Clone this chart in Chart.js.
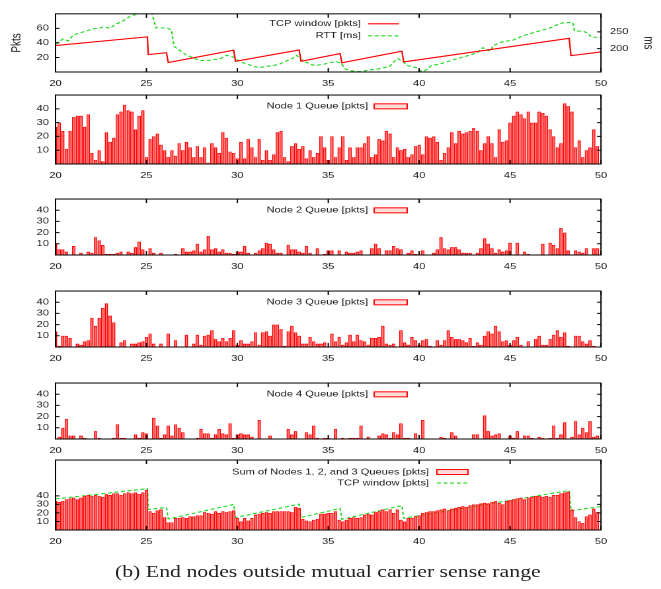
<!DOCTYPE html>
<html>
<head>
<meta charset="utf-8">
<script src="https://cdn.jsdelivr.net/npm/chart.js@4/dist/chart.umd.min.js"></script>
<style>
html, body { margin: 0; padding: 0; background: #fff; overflow: hidden; }
#fig { position: relative; width: 500px; height: 589px; transform: scaleX(1.322); transform-origin: 0 0; }
#fig canvas { position: absolute; left: 0; }
#caption { position: absolute; left: -2px; width: 500px; top: 561px; text-align: center;
  font: 16.5px "Liberation Serif", serif; line-height: 22px; color: #222; }
</style>
</head>
<body>
<div id="fig"><div id="caption">(b) End nodes outside mutual carrier sense range</div></div>
<script>
// sample times of the queue bars [s]
const qTime = [
  20,20.2,20.4,20.6,20.8, 21,21.2,21.4,21.6,21.8, 22,22.2,22.4,22.6,22.8,
  23,23.2,23.4,23.6,23.8, 24,24.2,24.4,24.6,24.8, 25,25.2,25.4,25.6,25.8,
  26,26.2,26.4,26.6,26.8, 27,27.2,27.4,27.6,27.8, 28,28.2,28.4,28.6,28.8,
  29,29.2,29.4,29.6,29.8, 30,30.2,30.4,30.6,30.8, 31,31.2,31.4,31.6,31.8,
  32,32.2,32.4,32.6,32.8, 33,33.2,33.4,33.6,33.8, 34,34.2,34.4,34.6,34.8,
  35,35.2,35.4,35.6,35.8, 36,36.2,36.4,36.6,36.8, 37,37.2,37.4,37.6,37.8,
  38,38.2,38.4,38.6,38.8, 39,39.2,39.4,39.6,39.8, 40,40.2,40.4,40.6,40.8,
  41,41.2,41.4,41.6,41.8, 42,42.2,42.4,42.6,42.8, 43,43.2,43.4,43.6,43.8,
  44,44.2,44.4,44.6,44.8, 45,45.2,45.4,45.6,45.8, 46,46.2,46.4,46.6,46.8,
  47,47.2,47.4,47.6,47.8, 48,48.2,48.4,48.6,48.8, 49,49.2,49.4,49.6,49.8
];

const node1 = [
  27,30,24,11,24, 34,35,35,27,36, 8,3,10,2,23, 16,19,36,38,43, 39,38,25,35,39,
  5,18,20,22,14, 10,5,10,6,15, 10,16,12,5,13, 5,12,1,15,12, 8,23,19,9,8,
  4,16,4,18,12, 5,18,3,10,3, 7,23,24,5,2, 13,15,11,13,4, 10,5,8,20,12,
  3,20,5,12,20, 3,12,5,12,12, 15,20,5,7,18, 17,24,22,5,12, 10,11,5,7,13,
  14,7,20,19,20, 16,3,8,12,23, 15,24,22,23,24, 26,24,10,15,20, 15,5,25,16,17,
  30,35,38,36,33, 38,30,30,38,37, 35,25,20,12,15, 44,42,38,12,17, 5,10,12,25,13
];
const node2 = [
  10,5,5,3,0, 8,0,2,0,3, 2,16,13,9,1, 1,1,2,3,0, 3,2,7,12,5,
  0,6,2,0,2, 0,0,0,1,0, 6,3,3,4,10, 3,5,17,5,6, 3,5,2,2,1,
  3,3,8,2,0, 2,4,6,11,10, 5,2,2,0,9, 5,5,3,2,8, 2,0,6,0,1,
  4,4,0,4,0, 3,2,2,3,4, 0,0,6,10,6, 0,4,4,8,6, 5,0,2,4,1,
  0,4,0,0,2, 5,16,6,5,7, 7,5,2,2,2, 0,2,6,15,10, 6,2,5,3,4,
  11,0,11,0,3, 1,0,0,0,10, 0,11,9,6,24, 20,4,0,4,3, 2,6,0,6,6
];
const node3 = [
  14,1,10,10,8, 0,3,2,5,6, 26,19,26,35,39, 28,22,0,4,6, 0,3,3,4,5,
  9,12,3,0,3, 0,12,0,6,0, 0,11,0,3,11, 2,10,11,15,7, 5,8,5,8,15,
  2,6,3,3,5, 13,2,13,14,10, 20,20,16,1,14, 19,13,10,3,3, 9,5,3,3,4,
  0,12,5,9,2, 4,11,5,11,6, 5,2,8,8,9, 19,3,2,3,0, 15,4,2,9,6,
  2,6,7,1,0, 6,2,6,15,9, 7,7,6,4,8, 1,4,2,10,14, 12,19,14,5,6,
  2,6,9,2,0, 5,0,7,10,2, 2,7,11,15,9, 13,1,0,10,10, 5,3,6,1,0
];
const node4 = [
  0,2,10,18,3, 3,0,3,1,0, 0,7,1,0,0, 0,1,13,1,1, 0,0,4,1,6,
  5,0,19,12,1, 4,12,3,13,10, 6,0,0,0,1, 9,5,5,1,4, 9,5,4,14,1,
  4,5,4,4,2, 0,17,0,0,3, 0,0,0,0,9, 4,7,0,0,6, 4,12,1,0,1,
  1,0,9,0,1, 0,1,1,1,12, 0,2,0,0,3, 5,4,1,6,4, 14,1,1,0,5,
  0,17,0,0,0, 0,2,1,0,6, 3,0,0,0,0, 4,4,0,21,7, 3,4,5,0,0,
  3,1,7,0,3, 3,1,0,2,1, 0,1,12,1,4, 15,0,2,16,4, 10,6,16,2,3
];
const queueSum = [
  34,33,34,36,37, 38,36,38,40,41, 40,41,40,39,42, 41,43,43,41,43, 44,43,44,42,44,
  47,22,20,23,24, 15,9,9,14,14, 15,14,16,16,17, 17,21,20,19,22, 20,22,21,22,23,
  14,10,14,11,14, 18,19,20,21,20, 22,22,22,22,22, 21,27,26,13,11, 10,12,13,19,19,
  20,20,22,12,10, 12,14,15,14,15, 18,19,18,21,22, 24,22,24,20,24, 12,10,14,14,16,
  17,20,21,22,22, 23,24,25,23,25, 26,27,28,27,29, 30,30,31,32,31, 33,34,32,30,34,
  35,36,37,38,36, 38,39,40,40,39, 40,39,41,41,43, 44,45,24,15,10, 8,16,18,25,21
];

// TCP congestion window [pkts]
const tcpTime = [20, 25.05, 25.1, 26.1, 26.2, 29.8, 29.9, 33.4, 33.5, 35.65, 35.75, 39.05, 39.15, 48.25, 48.35, 50];
const tcpWin  = [36.4, 48.4, 24, 26.5, 13, 30, 14.7, 30.3, 14.7, 25.3, 12.6, 28.6, 13.8, 46.3, 22.5, 27.6];

// round trip time [ms]
const rttTime = [
  20, 20.15, 20.43, 20.7, 20.98, 21.35, 21.71, 22.08, 22.45, 22.63, 22.99, 23.36, 23.73, 24.09, 24.46,
  24.92, 25.28, 25.37, 25.52, 26.11, 26.38, 26.51, 26.84, 27.21, 27.57, 27.94, 28.31, 28.67, 29.04, 29.41,
  29.77, 30.14, 30.51, 30.87, 31.24, 31.6, 31.97, 32.34, 32.7, 33.07, 33.25, 33.53, 33.8, 34.26, 34.81,
  35.08, 35.45, 35.72, 35.9, 36.18, 36.73, 37.28, 37.83, 38.38, 38.65, 38.83, 39.02, 39.38, 39.84, 40.03,
  40.21, 40.39, 40.67, 41.12, 41.67, 42.22, 42.77, 43.23, 43.5, 43.78, 43.96, 44.05, 44.6, 45.15, 45.7,
  46.25, 46.8, 47.17, 47.53, 47.9, 48.18, 48.45, 48.54, 49, 49.27, 49.46, 49.82, 50
];
const rttMs = [
  214, 220, 229, 223, 241, 247, 253, 259, 262, 265, 261, 274, 283, 296, 303,
  310, 310, 292, 262, 262, 256, 207, 194, 180, 173, 164, 164, 167, 169, 180,
  175, 161, 154, 147, 143, 147, 149, 154, 163, 172, 180, 167, 158, 149, 154,
  158, 161, 156, 140, 134, 131, 136, 140, 147, 163, 170, 164, 149, 143, 134,
  131, 136, 149, 154, 163, 172, 180, 189, 203, 194, 194, 209, 221, 225, 238,
  247, 256, 261, 270, 277, 278, 278, 253, 252, 247, 234, 234, 234
];

const xTicks = [20, 25, 30, 35, 40, 45, 50];
const pktTicks = [20, 40, 60];
const rttTicks = [200, 250];
const queueTicks = [10, 20, 30, 40];

const FONT = 'Liberation Sans';
const RED = '#ff0000';
const BAR_FILL = 'rgba(255,50,50,0.7)';
const GREEN = '#22d822';
const fig = document.getElementById('fig');

const pts = (xs, ys) => xs.map((x, i) => ({ x: x, y: ys[i] }));

// gnuplot-like frame, inward ticks and key
const framePlugin = {
  id: 'frame',
  afterDatasetsDraw(chart) {
    const { ctx, chartArea: a, scales } = chart;
    ctx.save();
    ctx.strokeStyle = '#000';
    ctx.lineWidth = 1;
    ctx.strokeRect(a.left, a.top, a.right - a.left, a.bottom - a.top);
    ctx.beginPath();
    for (const t of scales.x.ticks) {
      const px = scales.x.getPixelForValue(t.value);
      ctx.moveTo(px, a.bottom); ctx.lineTo(px, a.bottom - 4);
      ctx.moveTo(px, a.top); ctx.lineTo(px, a.top + 4);
    }
    for (const t of scales.y.ticks) {
      const py = scales.y.getPixelForValue(t.value);
      ctx.moveTo(a.left, py); ctx.lineTo(a.left + 3, py);
      if (!scales.y1) { ctx.moveTo(a.right, py); ctx.lineTo(a.right - 3, py); }
    }
    if (scales.y1) {
      for (const t of scales.y1.ticks) {
        const py = scales.y1.getPixelForValue(t.value);
        ctx.moveTo(a.right, py); ctx.lineTo(a.right - 3, py);
      }
    }
    ctx.stroke();
    ctx.restore();
  },
  afterDraw(chart, args, opts) {
    const { ctx, chartArea: a } = chart;
    ctx.save();
    ctx.font = '8.4px "' + FONT + '"';
    ctx.textAlign = 'right';
    ctx.textBaseline = 'middle';
    chart.data.datasets.forEach((ds, i) => {
      const y = a.top + opts.rows[i];
      ctx.fillStyle = '#1a1a1a';
      ctx.fillText(ds.label, opts.textRight, y);
      const x0 = opts.textRight + opts.gap;
      const w = opts.sample;
      if ((ds.type || chart.config.type) === 'bar') {
        ctx.fillStyle = 'rgba(255,150,150,0.35)';
        ctx.fillRect(x0, y - 2.5, w, 5);
        ctx.strokeStyle = RED;
        ctx.lineWidth = 1;
        ctx.strokeRect(x0, y - 2.5, w, 5);
      } else {
        ctx.strokeStyle = ds.borderColor;
        ctx.lineWidth = ds.borderWidth;
        ctx.setLineDash(ds.borderDash || []);
        ctx.beginPath();
        ctx.moveTo(x0, y); ctx.lineTo(x0 + w, y);
        ctx.stroke();
        ctx.setLineDash([]);
      }
    });
    ctx.restore();
  }
};

function tickFont() { return { family: FONT, size: 8.4 }; }

function fixedTicks(values) {
  return (s) => { s.ticks = values.map(v => ({ value: v })); };
}

function xScale() {
  return {
    type: 'linear', min: 20, max: 50, offset: false,
    afterBuildTicks: fixedTicks(xTicks),
    grid: { display: false, drawTicks: false, offset: false }, border: { display: false },
    ticks: { font: tickFont(), color: '#1a1a1a', padding: 6.5, maxRotation: 0, autoSkip: false },
    afterFit: (s) => { s.height = 18; }
  };
}

function yScale(max, ticks, title) {
  return {
    min: 0, max: max,
    afterBuildTicks: fixedTicks(ticks),
    grid: { display: false, drawTicks: false }, border: { display: false },
    ticks: { font: tickFont(), color: '#1a1a1a', padding: 5, autoSkip: false },
    title: title ? { display: true, text: title, color: '#1a1a1a', font: { family: FONT, size: 10 }, padding: { top: 6.9, bottom: 0 } } : { display: false },
    afterFit: (s) => { s.width = 42; }
  };
}

function makeCanvas(top, bottom) {
  const h = Math.round(bottom - top + 23);
  const c = document.createElement('canvas');
  c.width = 500; c.height = h;
  c.style.top = (top - 5) + 'px';
  c.style.width = '500px';
  c.style.height = h + 'px';
  fig.appendChild(c);
  return c;
}

function barSet(label, values) {
  return {
    label: label, data: pts(qTime, values),
    backgroundColor: BAR_FILL, borderColor: RED, borderWidth: 0.8,
    barPercentage: 0.95, categoryPercentage: 1
  };
}

function lineSet(label, xs, ys, color, dash, axis) {
  return {
    type: 'line', label: label, data: pts(xs, ys), yAxisID: axis || 'y',
    borderColor: color, borderWidth: 1.1, borderDash: dash || [],
    pointRadius: 0, tension: 0, fill: false
  };
}

// panel 1: TCP window and RTT
new Chart(makeCanvas(7, 72.2), {
  type: 'line',
  data: {
    datasets: [
      lineSet('TCP window [pkts]', tcpTime, tcpWin, RED),
      lineSet('RTT [ms]', rttTime, rttMs, GREEN, [3, 2], 'y1')
    ]
  },
  options: {
    responsive: false, animation: false, devicePixelRatio: 2,
    layout: { padding: { top: 5, right: 0, left: 0, bottom: 0 } },
    scales: {
      x: xScale(),
      y: yScale(80, pktTicks, 'Pkts'),
      y1: {
        position: 'right', min: 130, max: 304,
        afterBuildTicks: fixedTicks(rttTicks),
        grid: { display: false, drawTicks: false }, border: { display: false },
        ticks: { font: tickFont(), color: '#1a1a1a', padding: 6.8, autoSkip: false },
        title: { display: true, text: 'ms', color: '#1a1a1a', font: { family: FONT, size: 10 }, padding: { top: 4, bottom: 0 } },
        afterFit: (s) => { s.width = 45.4; }
      }
    },
    plugins: {
      legend: { display: false }, tooltip: { enabled: false },
      frame: { textRight: 273, gap: 5.4, sample: 23.4, rows: [10, 22] }
    }
  },
  plugins: [framePlugin]
});

// panels 2-5: per-node queues
const queuePanels = [
  { label: 'Node 1 Queue [pkts]', values: node1, top: 90, bottom: 164 },
  { label: 'Node 2 Queue [pkts]', values: node2, top: 194.3, bottom: 255.3 },
  { label: 'Node 3 Queue [pkts]', values: node3, top: 286, bottom: 347 },
  { label: 'Node 4 Queue [pkts]', values: node4, top: 377.7, bottom: 438.5 }
];

for (const p of queuePanels) {
  new Chart(makeCanvas(p.top, p.bottom), {
    type: 'bar',
    data: { datasets: [barSet(p.label, p.values)] },
    options: {
      responsive: false, animation: false, devicePixelRatio: 2,
      layout: { padding: { top: 5, right: 45.4, left: 0, bottom: 0 } },
      scales: { x: xScale(), y: yScale(50, queueTicks) },
      plugins: {
        legend: { display: false }, tooltip: { enabled: false },
        frame: { textRight: 278.4, gap: 4.6, sample: 25, rows: [11.3] }
      }
    },
    plugins: [framePlugin]
  });
}

// panel 6: sum of queues with TCP window
new Chart(makeCanvas(455, 530), {
  type: 'bar',
  data: {
    datasets: [
      barSet('Sum of Nodes 1, 2, and 3 Queues [pkts]', queueSum),
      lineSet('TCP window [pkts]', tcpTime, tcpWin, GREEN, [3, 2])
    ]
  },
  options: {
    responsive: false, animation: false, devicePixelRatio: 2,
    layout: { padding: { top: 5, right: 45.4, left: 0, bottom: 0 } },
    scales: { x: xScale(), y: yScale(82, queueTicks) },
    plugins: {
      legend: { display: false }, tooltip: { enabled: false },
      frame: { textRight: 324.5, gap: 6, sample: 23.5, rows: [12, 23] }
    }
  },
  plugins: [framePlugin]
});
</script>
</body>
</html>
